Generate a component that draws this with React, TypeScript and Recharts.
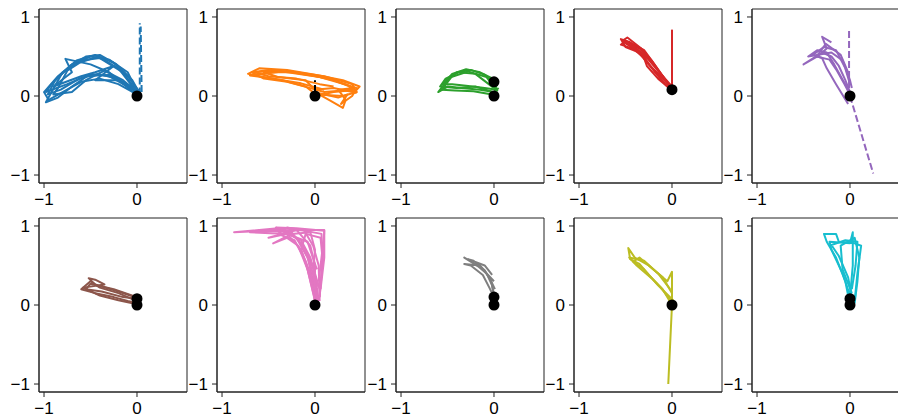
import { ComposedChart, Line, Scatter, XAxis, YAxis, ReferenceArea } from 'recharts'

const X_DOMAIN: [number, number] = [-1.054, 0.538]
const Y_DOMAIN: [number, number] = [-1.101, 1.101]
const X_TICKS = [-1, 0]
const Y_TICKS = [-1, 0, 1]

// tab10 colours, one per panel
const COLORS = ['#1f77b4', '#ff7f0e', '#2ca02c', '#d62728', '#9467bd', '#8c564b', '#e377c2', '#7f7f7f', '#bcbd22', '#17becf']

// trajectories as [x, y] pairs
const BLUE_TRACES = [
  [[0, 0], [0.03, 0.05], [-0.1, 0.25], [-0.25, 0.42], [-0.45, 0.52], [-0.65, 0.45], [-0.85, 0.25], [-1.0, 0.05], [-0.95, -0.05], [-0.8, 0.05], [-0.6, 0.18], [-0.4, 0.22], [-0.2, 0.15], [0, 0.02]],
  [[0.02, 0.02], [-0.15, 0.3], [-0.4, 0.48], [-0.6, 0.45], [-0.8, 0.3], [-0.98, -0.08], [-0.85, -0.02], [-0.7, 0.12], [-0.5, 0.28], [-0.3, 0.25], [-0.1, 0.12], [0.02, 0.03]],
  [[0, 0.05], [-0.2, 0.35], [-0.42, 0.5], [-0.62, 0.42], [-0.75, 0.32], [-0.85, 0.1], [-0.9, 0.02], [-0.7, 0.05], [-0.55, 0.2], [-0.35, 0.32], [-0.15, 0.2], [0.01, 0.04]],
  [[0.01, 0], [-0.3, 0.3], [-0.5, 0.4], [-0.77, 0.47], [-0.7, 0.3], [-0.9, 0.12], [-0.6, 0.25], [-0.45, 0.3], [-0.25, 0.38], [-0.45, 0.2], [-0.2, 0.2], [-0.05, 0.1], [0.02, 0.02]],
  [[0.02, 0.01], [-0.1, 0.3], [-0.3, 0.46], [-0.5, 0.5], [-0.7, 0.4], [-0.92, 0.15], [-0.98, 0.05], [-0.75, 0.15], [-0.55, 0.25], [-0.3, 0.27], [-0.12, 0.16], [0.03, 0.05]],
  [[0.03, 0.03], [-0.05, 0.2], [-0.22, 0.4], [-0.4, 0.52], [-0.55, 0.5], [-0.72, 0.38], [-0.88, 0.2], [-0.96, 0.02], [-0.82, 0.08], [-0.62, 0.22], [-0.42, 0.28], [-0.22, 0.22], [-0.05, 0.08]],
]
const BLUE_DASHED = [
  [[0.03, 0.02], [0.03, 0.92]],
  [[0.05, 0.05], [0.04, 0.88]],
]
const BLUE_DOTS = [[0, 0]]

const ORANGE_TRACES = [
  [[0, 0], [0.2, 0.05], [0.45, 0.08], [0.48, 0.12], [0.3, 0.2], [0, 0.27], [-0.3, 0.33], [-0.6, 0.35], [-0.72, 0.28], [-0.6, 0.25], [-0.35, 0.2], [-0.1, 0.12], [0, 0.03]],
  [[0.02, 0.02], [0.3, 0], [0.45, 0.05], [0.4, 0.15], [0.1, 0.25], [-0.2, 0.3], [-0.5, 0.33], [-0.68, 0.3], [-0.55, 0.22], [-0.3, 0.18], [-0.05, 0.1], [0.1, 0.05], [0.4, 0.08]],
  [[0, 0.05], [0.15, -0.05], [0.3, -0.15], [0.33, -0.05], [0.25, 0.08], [0.42, 0.1], [0.2, 0.2], [-0.1, 0.28], [-0.4, 0.32], [-0.65, 0.3], [-0.5, 0.25], [-0.2, 0.22], [0.05, 0.15], [0.2, 0.12]],
  [[0.02, 0.04], [0.25, -0.02], [0.35, 0.02], [0.28, -0.1], [0.4, 0], [0.45, 0.1], [0.15, 0.22], [-0.25, 0.3], [-0.55, 0.3], [-0.4, 0.24], [-0.1, 0.2], [0.02, 0.05]],
  [[0, 0.08], [0.2, 0.1], [0.44, 0.04], [0.35, 0.14], [0.05, 0.24], [-0.35, 0.31], [-0.7, 0.26], [-0.45, 0.22], [-0.15, 0.16], [0.1, 0.08]],
]
const ORANGE_DASHED = [[[0, 0.05], [0, 0.2]]]
const ORANGE_DOTS = [[0, 0]]

const GREEN_TRACES = [
  [[0, 0.02], [0.03, 0.15], [-0.1, 0.27], [-0.25, 0.33], [-0.4, 0.3], [-0.5, 0.2], [-0.6, 0.05], [-0.5, 0.12], [-0.35, 0.1], [-0.15, 0.08], [0, 0.05], [0.05, 0.1]],
  [[0.02, 0.2], [-0.15, 0.3], [-0.3, 0.34], [-0.45, 0.28], [-0.55, 0.15], [-0.45, 0.15], [-0.3, 0.13], [-0.1, 0.1], [0.03, 0.08]],
  [[0, 0.1], [-0.2, 0.28], [-0.38, 0.3], [-0.52, 0.22], [-0.58, 0.12], [-0.4, 0.1], [-0.2, 0.12], [0.02, 0.04]],
  [[0.04, 0.06], [-0.08, 0.24], [-0.28, 0.31], [-0.46, 0.24], [-0.56, 0.08], [-0.42, 0.07], [-0.22, 0.06], [-0.02, 0.02]],
]
const GREEN_DASHED: number[][][] = []
const GREEN_DOTS = [[0, 0.18], [0, 0]]

const RED_TRACES = [
  [[0.02, 0.05], [-0.08, 0.22], [-0.2, 0.42], [-0.3, 0.58], [-0.45, 0.68], [-0.55, 0.72], [-0.5, 0.62], [-0.35, 0.55], [-0.25, 0.4], [-0.12, 0.25], [0, 0.1]],
  [[0, 0.1], [-0.12, 0.28], [-0.25, 0.48], [-0.35, 0.6], [-0.5, 0.7], [-0.55, 0.65], [-0.42, 0.6], [-0.3, 0.48], [-0.27, 0.38], [-0.15, 0.22], [0.02, 0.05]],
  [[0.03, 0.08], [-0.15, 0.32], [-0.28, 0.5], [-0.4, 0.62], [-0.52, 0.68], [-0.45, 0.63], [-0.32, 0.52], [-0.18, 0.3], [-0.05, 0.12]],
  [[0.01, 0.04], [-0.1, 0.25], [-0.22, 0.45], [-0.33, 0.6], [-0.48, 0.74], [-0.53, 0.7], [-0.38, 0.58], [-0.22, 0.36], [-0.08, 0.16]],
  [[0, 0.12], [0, 0.84]],
]
const RED_DASHED: number[][][] = []
const RED_DOTS = [[0, 0.08]]

const PURPLE_TRACES = [
  [[0, 0.05], [-0.05, 0.2], [-0.12, 0.38], [-0.2, 0.5], [-0.3, 0.55], [-0.5, 0.4], [-0.35, 0.5], [-0.25, 0.6], [-0.3, 0.75], [-0.2, 0.68]],
  [[0.02, 0], [-0.1, 0.25], [-0.17, 0.4], [-0.25, 0.55], [-0.35, 0.58], [-0.45, 0.5], [-0.2, 0.55], [-0.08, 0.45], [0, 0.2], [0.02, 0.1]],
  [[-0.02, -0.1], [-0.15, 0.15], [-0.25, 0.35], [-0.3, 0.48], [-0.4, 0.52], [-0.28, 0.62], [-0.15, 0.58], [-0.05, 0.35], [0, 0.15]],
  [[0.03, -0.05], [-0.06, 0.15], [-0.14, 0.32], [-0.22, 0.46], [-0.36, 0.5], [-0.26, 0.66], [-0.1, 0.52], [-0.02, 0.3]],
]
const PURPLE_DASHED = [
  [[-0.01, 0.1], [-0.01, 0.84]],
  [[0, 0], [0.25, -0.98]],
]
const PURPLE_DOTS = [[0, 0]]

const BROWN_TRACES = [
  [[0, 0.05], [-0.2, 0.15], [-0.4, 0.22], [-0.5, 0.3], [-0.55, 0.25], [-0.6, 0.2], [-0.45, 0.15], [-0.25, 0.1], [-0.1, 0.05], [0.02, 0.02]],
  [[0.03, 0.08], [-0.2, 0.17], [-0.45, 0.26], [-0.52, 0.34], [-0.45, 0.32], [-0.35, 0.26], [-0.58, 0.22], [-0.4, 0.12], [-0.2, 0.06], [0.04, 0]],
  [[0, 0.1], [-0.25, 0.2], [-0.5, 0.27], [-0.55, 0.2], [-0.38, 0.17], [-0.15, 0.1], [0, 0.08]],
]
const BROWN_DASHED: number[][][] = []
const BROWN_DOTS = [[0, 0.08], [0, 0]]

const PINK_TRACES = [
  [[0, 0], [-0.02, 0.3], [-0.08, 0.6], [-0.2, 0.85], [-0.35, 0.95], [-0.87, 0.92], [-0.4, 0.97], [-0.1, 0.95], [0.1, 0.95], [0.08, 0.5], [0.05, 0.1]],
  [[0.02, 0.05], [-0.05, 0.4], [-0.15, 0.7], [-0.3, 0.9], [-0.5, 0.85], [-0.2, 0.95], [-0.05, 0.75], [0, 0.5], [0, 0.2]],
  [[0.04, 0.05], [0, 0.4], [-0.1, 0.7], [-0.25, 0.92], [-0.6, 0.95], [-0.35, 0.93], [-0.15, 0.82], [-0.05, 0.6], [0.05, 0.2]],
  [[0.05, 0.1], [0.08, 0.6], [0.06, 0.85], [-0.1, 0.9], [-0.15, 0.7], [-0.05, 0.35], [0.02, 0.05]],
  [[0.03, 0], [0, 0.3], [-0.06, 0.55], [-0.15, 0.78], [-0.28, 0.93], [-0.42, 0.98], [-0.2, 0.97], [0.1, 0.94], [0.1, 0.6], [0.06, 0.2]],
  [[0.01, 0.02], [-0.08, 0.45], [-0.18, 0.75], [-0.3, 0.85], [-0.45, 0.78], [-0.25, 0.9], [-0.05, 0.92], [0, 0.7], [-0.02, 0.4], [0.02, 0.05]],
  [[0.05, 0.05], [0.04, 0.5], [-0.02, 0.75], [-0.12, 0.95], [-0.7, 0.92], [-0.3, 0.9], [-0.08, 0.8], [0.02, 0.45]],
  [[0, 0.05], [-0.1, 0.55], [-0.22, 0.82], [-0.4, 0.9], [-0.3, 0.98], [0.07, 0.9], [0.08, 0.7], [0.04, 0.3]],
]
const PINK_DASHED: number[][][] = []
const PINK_DOTS = [[0, 0]]

const GRAY_TRACES = [
  [[0, 0.1], [-0.02, 0.25], [-0.08, 0.4], [-0.2, 0.52], [-0.32, 0.6], [-0.25, 0.55], [-0.12, 0.45], [0, 0.3]],
  [[0.02, 0.05], [-0.05, 0.22], [-0.12, 0.38], [-0.25, 0.5], [-0.32, 0.52], [-0.15, 0.5], [-0.05, 0.35], [0.01, 0.2]],
  [[0.01, 0.08], [-0.03, 0.3], [-0.1, 0.44], [-0.22, 0.56], [-0.28, 0.58], [-0.1, 0.5], [-0.02, 0.38]],
]
const GRAY_DASHED: number[][][] = []
const GRAY_DOTS = [[0, 0.1], [0, 0]]

const OLIVE_TRACES = [
  [[0, 0], [-0.1, 0.2], [-0.25, 0.38], [-0.35, 0.52], [-0.45, 0.58], [-0.47, 0.72], [-0.4, 0.6], [-0.25, 0.5], [-0.1, 0.35], [0, 0.15]],
  [[0.02, 0.05], [-0.15, 0.25], [-0.3, 0.45], [-0.42, 0.55], [-0.35, 0.6], [-0.2, 0.45], [-0.05, 0.3], [0, 0.42], [0, 0.05]],
  [[0.01, 0.02], [-0.12, 0.22], [-0.22, 0.34], [-0.38, 0.5], [-0.46, 0.6], [-0.3, 0.56], [-0.15, 0.4], [-0.02, 0.2]],
  [[0, 0], [-0.02, -0.5], [-0.04, -1.0]],
]
const OLIVE_DASHED: number[][][] = []
const OLIVE_DOTS = [[0, 0]]

const CYAN_TRACES = [
  [[0, 0], [-0.05, 0.3], [-0.15, 0.6], [-0.25, 0.8], [-0.28, 0.9], [-0.15, 0.9], [-0.12, 0.8], [0.05, 0.78], [0.12, 0.75], [0.08, 0.4], [0.05, 0.05]],
  [[0.02, 0.05], [-0.08, 0.4], [-0.2, 0.7], [-0.22, 0.8], [0, 0.78], [0.03, 0.92], [0.03, 0.5], [0, 0.1]],
  [[0.05, 0.02], [0.08, 0.3], [0.1, 0.6], [0.05, 0.85], [-0.1, 0.75], [-0.08, 0.45], [0.02, 0.15]],
  [[0.03, 0.04], [-0.02, 0.35], [-0.12, 0.62], [-0.2, 0.76], [-0.05, 0.82], [0.08, 0.8], [0.06, 0.5], [0.02, 0.2]],
]
const CYAN_DASHED: number[][][] = []
const CYAN_DOTS = [[0, 0.08], [0, 0]]

const PANELS = [
  { traces: BLUE_TRACES, dashed: BLUE_DASHED, dots: BLUE_DOTS },
  { traces: ORANGE_TRACES, dashed: ORANGE_DASHED, dots: ORANGE_DOTS },
  { traces: GREEN_TRACES, dashed: GREEN_DASHED, dots: GREEN_DOTS },
  { traces: RED_TRACES, dashed: RED_DASHED, dots: RED_DOTS },
  { traces: PURPLE_TRACES, dashed: PURPLE_DASHED, dots: PURPLE_DOTS },
  { traces: BROWN_TRACES, dashed: BROWN_DASHED, dots: BROWN_DOTS },
  { traces: PINK_TRACES, dashed: PINK_DASHED, dots: PINK_DOTS },
  { traces: GRAY_TRACES, dashed: GRAY_DASHED, dots: GRAY_DOTS },
  { traces: OLIVE_TRACES, dashed: OLIVE_DASHED, dots: OLIVE_DOTS },
  { traces: CYAN_TRACES, dashed: CYAN_DASHED, dots: CYAN_DOTS },
]

const FONT = '"Liberation Sans", Arial, sans-serif'
const AXIS_COLOR = '#222'
const Y_AXIS_W = 39
const PLOT_W = 148
const PLOT_H = 174
const TOP_PAD = 9
const X_AXIS_H = 30

const toPoints = (pairs: number[][]) => pairs.map(([x, y]) => ({ x, y }))
const fmt = (v: number) => (v < 0 ? `\u2212${Math.abs(v)}` : String(v))

function Panel({ index }: { index: number }) {
  const p = PANELS[index]
  const color = COLORS[index]
  const row = Math.floor(index / 5)
  const col = index % 5
  const left = 178.3 * col
  const top = 209 * row
  const tick = { fill: '#000', fontSize: 17, fontFamily: FONT }

  return (
    <div style={{ position: 'absolute', left, top }}>
      <ComposedChart
        width={Y_AXIS_W + PLOT_W + 4}
        height={TOP_PAD + PLOT_H + X_AXIS_H}
        margin={{ top: TOP_PAD, right: 4, bottom: 0, left: 0 }}
      >
        <XAxis
          type="number"
          dataKey="x"
          domain={X_DOMAIN}
          ticks={X_TICKS}
          tickFormatter={fmt}
          height={X_AXIS_H}
          tick={tick}
          tickSize={5}
          tickMargin={5}
          stroke={AXIS_COLOR}
          allowDataOverflow
        />
        <YAxis
          type="number"
          dataKey="y"
          domain={Y_DOMAIN}
          ticks={Y_TICKS}
          tickFormatter={fmt}
          width={Y_AXIS_W}
          tick={tick}
          tickSize={5}
          tickMargin={4}
          stroke={AXIS_COLOR}
          allowDataOverflow
        />
        {p.traces.map((t, i) => (
          <Line
            key={`t${i}`}
            data={toPoints(t)}
            dataKey="y"
            type="linear"
            stroke={color}
            strokeWidth={2}
            strokeLinejoin="round"
            dot={false}
            activeDot={false}
            isAnimationActive={false}
          />
        ))}
        {p.dashed.map((t, i) => (
          <Line
            key={`d${i}`}
            data={toPoints(t)}
            dataKey="y"
            type="linear"
            stroke={i === 0 && index === 1 ? '#000' : color}
            strokeWidth={2}
            strokeDasharray="7 3"
            dot={false}
            activeDot={false}
            isAnimationActive={false}
          />
        ))}
        <Scatter
          data={toPoints(p.dots)}
          dataKey="y"
          isAnimationActive={false}
          shape={(s: any) => <circle cx={s.cx} cy={s.cy} r={5.5} fill="#000" />}
        />
        <ReferenceArea
          x1={X_DOMAIN[0]}
          x2={X_DOMAIN[1]}
          y1={Y_DOMAIN[0]}
          y2={Y_DOMAIN[1]}
          fill="none"
          stroke={AXIS_COLOR}
          strokeWidth={1}
          ifOverflow="visible"
        />
      </ComposedChart>
    </div>
  )
}

export default function App() {
  return (
    <div style={{ position: 'absolute', left: 0, top: 0, width: 898, height: 418, background: '#fff', overflow: 'hidden' }}>
      {PANELS.map((_, i) => (
        <Panel key={i} index={i} />
      ))}
    </div>
  )
}
